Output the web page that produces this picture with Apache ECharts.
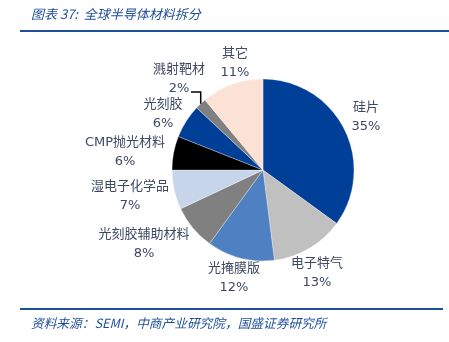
<!DOCTYPE html>
<html>
<head>
<meta charset="utf-8">
<script src="https://cdn.jsdelivr.net/npm/echarts@6/dist/echarts.min.js"></script>
<style>
  html, body { margin: 0; padding: 0; background: #fff; }
  #chart { width: 449px; height: 342px; }
</style>
</head>
<body>
<div id="chart"></div>
<script>
// Global semiconductor materials breakdown (share, %)
const categories = ['硅片', '电子特气', '光掩膜版', '光刻胶辅助材料', '湿电子化学品', 'CMP抛光材料', '光刻胶', '溅射靶材', '其它'];
const shares = [35, 13, 12, 8, 7, 6, 6, 2, 11];
const sliceColors = ['#003f98', '#c0c0c0', '#4f81c2', '#808080', '#c6d5ea', '#000000', '#003f98', '#808080', '#fbe2d5'];

// Label anchor (centre of the two-line block) for each slice
const labelPos = [
  [366, 117], [317, 273], [234, 278], [144, 244], [130, 196],
  [125, 152], [163, 114], [179, 79], [235, 63]
];

const CX = 263, CY = 170, R = 91;
const BLUE = '#1f4e9a';
const TEXT = '#3d4863';

// Leader line for the narrow 溅射靶材 slice: from its outer edge up to the label
const leaderIdx = categories.indexOf('溅射靶材');
const before = shares.slice(0, leaderIdx).reduce((a, b) => a + b, 0);
const total = shares.reduce((a, b) => a + b, 0);
const midAngle = (before + shares[leaderIdx] / 2) / total * 2 * Math.PI;
const edgeX = CX + R * Math.sin(midAngle);
const edgeY = CY - R * Math.cos(midAngle);
const leaderY = labelPos[leaderIdx][1] + 13;
const leaderEndX = labelPos[leaderIdx][0] + 12;

const chart = echarts.init(document.getElementById('chart'), null, { renderer: 'canvas' });
chart.setOption({
  backgroundColor: '#ffffff',
  animation: false,
  graphic: [
    { type: 'text', left: 31, top: 8,
      style: { text: '图表 37:  全球半导体材料拆分', fill: BLUE, fontSize: 13, fontStyle: 'italic',
               fontFamily: 'Noto Sans CJK SC' } },
    { type: 'line', shape: { x1: 20, y1: 31, x2: 449, y2: 31 }, style: { stroke: BLUE, lineWidth: 2 } },
    { type: 'line', shape: { x1: 20, y1: 309, x2: 443, y2: 309 }, style: { stroke: BLUE, lineWidth: 2 } },
    { type: 'text', left: 31, top: 317,
      style: { text: '资料来源：SEMI，中商产业研究院，国盛证券研究所', fill: BLUE, fontSize: 12.7, fontStyle: 'italic',
               fontFamily: 'Noto Sans CJK SC' } },
    { type: 'polyline', z: 10,
      shape: { points: [[leaderEndX, leaderY], [edgeX, leaderY], [edgeX, edgeY]] },
      style: { stroke: '#000', lineWidth: 1.5, fill: null } }
  ],
  series: [{
    type: 'pie',
    center: [CX, CY],
    radius: R,
    startAngle: 90,
    clockwise: true,
    silent: true,
    data: categories.map((name, i) => ({
      name: name,
      value: shares[i],
      itemStyle: { color: sliceColors[i] }
    })),
    itemStyle: { borderColor: '#ffffff', borderWidth: 0.3 },
    label: {
      show: true,
      position: 'outside',
      formatter: '{b}\n{c}%',
      color: TEXT,
      fontSize: 13,
      lineHeight: 19,
      fontFamily: 'DejaVu Sans, Noto Sans CJK SC',
      align: 'center'
    },
    labelLine: { show: false },
    labelLayout: function (params) {
      const p = labelPos[params.dataIndex];
      return { x: p[0], y: p[1], align: 'center', verticalAlign: 'middle' };
    }
  }]
});
</script>
</body>
</html>
